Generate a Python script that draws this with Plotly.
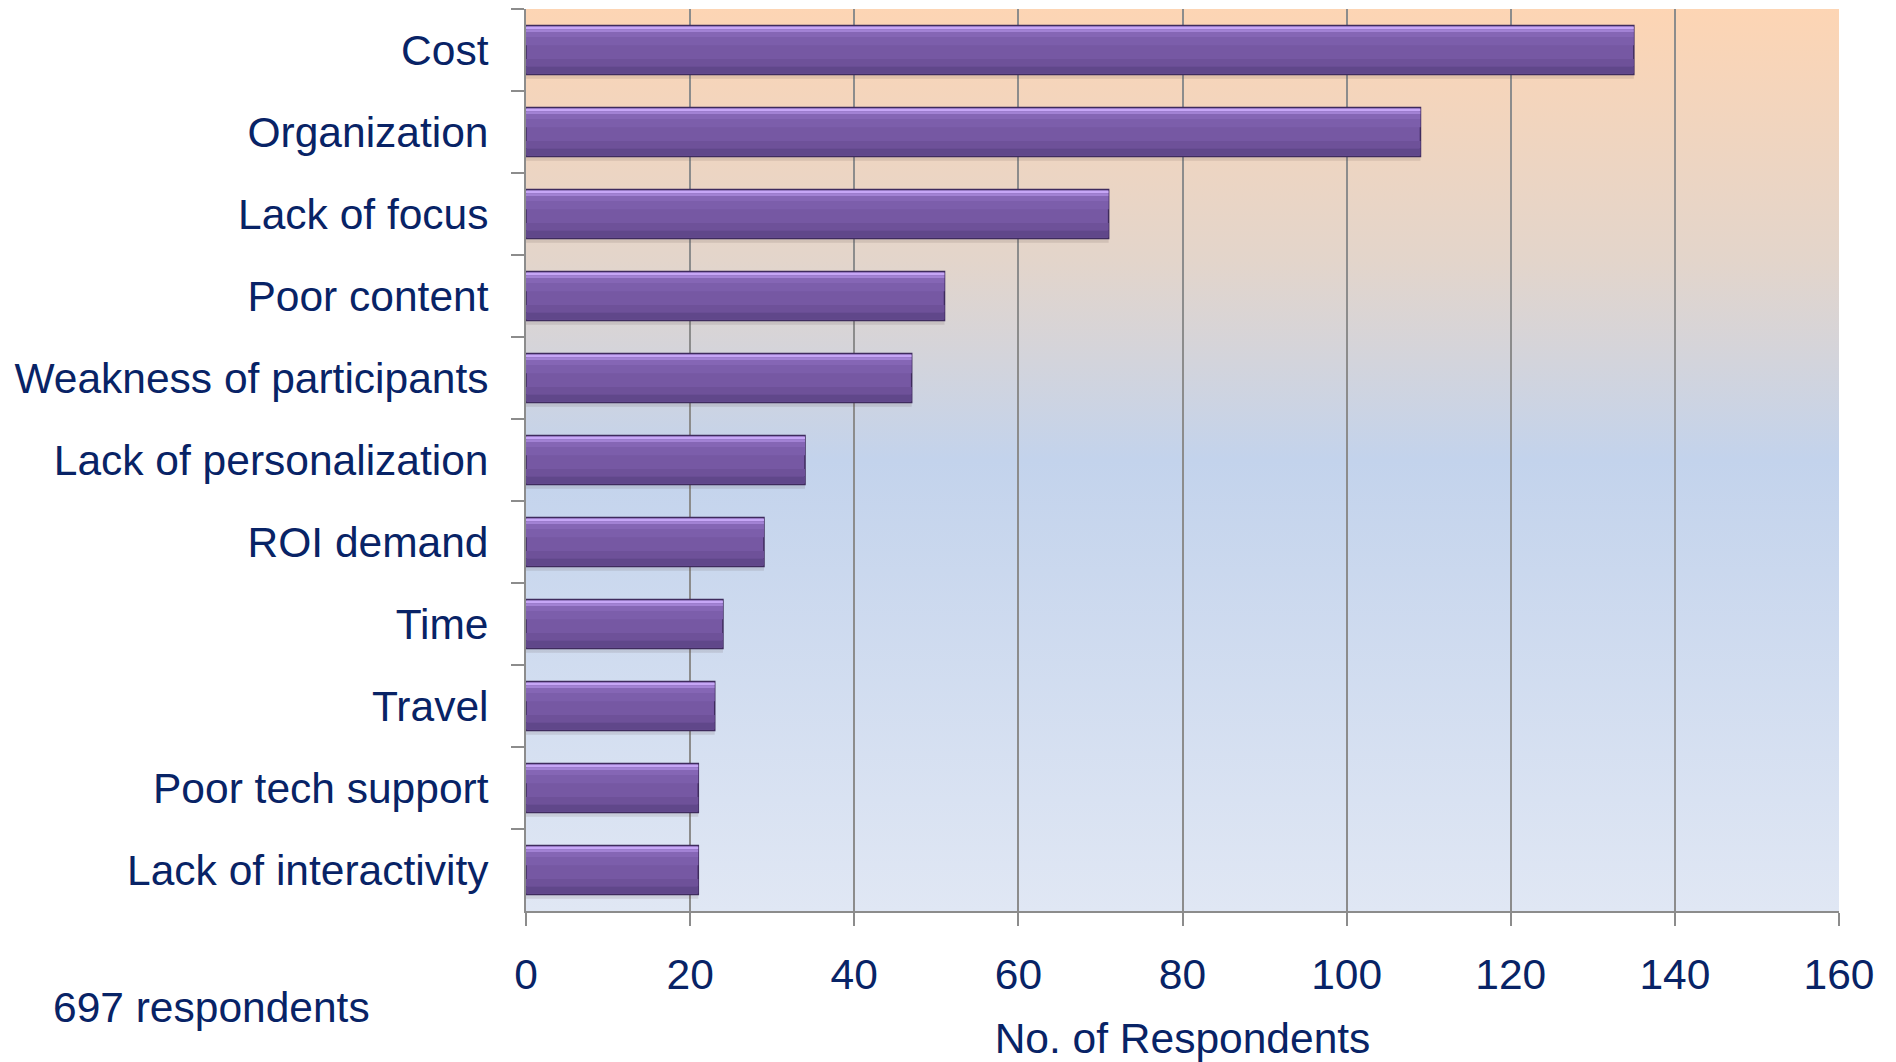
import base64
import plotly.graph_objects as go

# Survey: barriers reported by respondents
categories = [
    "Cost",
    "Organization",
    "Lack of focus",
    "Poor content",
    "Weakness of participants",
    "Lack of personalization",
    "ROI demand",
    "Time",
    "Travel",
    "Poor tech support",
    "Lack of interactivity",
]
respondents = [135, 109, 71, 51, 47, 34, 29, 24, 23, 21, 21]
x_ticks = [0, 20, 40, 60, 80, 100, 120, 140, 160]
note_text = "697 respondents"

NAVY = "#082366"
GRID = "#8C8C8C"
FONT = "Liberation Sans, Arial, sans-serif"
FS = 42.5

BAR_W = 0.6
half = BAR_W / 2

fig = go.Figure()

# soft drop shadow under each bar
fig.add_trace(go.Bar(
    y=categories, x=respondents, orientation="h",
    offset=-half + 0.05, width=BAR_W,
    marker=dict(color="rgba(90,70,70,0.14)", line=dict(width=0)),
    hoverinfo="skip", showlegend=False,
))
# bar body
fig.add_trace(go.Bar(
    y=categories, x=respondents, orientation="h",
    offset=-half, width=BAR_W,
    marker=dict(color="#7658A3", line=dict(color="#3E2B5D", width=1.5)),
    hovertemplate="%{y}: %{x}<extra></extra>", showlegend=False,
))
# bevel shading strips (top light edge -> lower dark band)
strips = [
    (-half + 0.012, 0.035, "#C6A6F6"),
    (-half + 0.047, 0.035, "#A282D4"),
    (-half + 0.082, 0.06, "#8566B5"),
    (-half + 0.142, 0.1, "#7C5EAB"),
    (half - 0.19, 0.09, "#6E5199"),
    (half - 0.1, 0.088, "#60478A"),
]
for off, w, col in strips:
    fig.add_trace(go.Bar(
        y=categories, x=respondents, orientation="h",
        offset=off, width=w,
        marker=dict(color=col, line=dict(width=0)),
        hoverinfo="skip", showlegend=False,
    ))

# vertical background gradient behind the plotting area
svg = (
    "<svg xmlns='http://www.w3.org/2000/svg' width='10' height='100' "
    "viewBox='0 0 10 100' preserveAspectRatio='none'>"
    "<defs><linearGradient id='g' x1='0' y1='0' x2='0' y2='1'>"
    "<stop offset='0' stop-color='#FDD5B4'/>"
    "<stop offset='0.28' stop-color='#E3D5CB'/>"
    "<stop offset='0.5' stop-color='#C3D3EC'/>"
    "<stop offset='1' stop-color='#E0E7F4'/>"
    "</linearGradient></defs>"
    "<rect width='10' height='100' fill='url(#g)'/></svg>"
)
bg_src = "data:image/svg+xml;base64," + base64.b64encode(svg.encode()).decode()

fig.update_layout(
    width=1896, height=1062,
    margin=dict(l=526, r=57, t=9, b=151),
    paper_bgcolor="white",
    plot_bgcolor="rgba(0,0,0,0)",
    barmode="overlay",
    font=dict(family=FONT, color=NAVY, size=FS),
    images=[dict(
        source=bg_src, xref="paper", yref="paper", x=0, y=1,
        sizex=1, sizey=1, xanchor="left", yanchor="top",
        sizing="stretch", layer="below",
    )],
    xaxis=dict(
        range=[0, 160], tickvals=x_ticks, ticktext=[str(v) for v in x_ticks],
        showgrid=True, gridcolor=GRID, gridwidth=2,
        showline=True, linecolor=GRID, linewidth=2,
        ticks="outside", ticklen=13, tickwidth=2, tickcolor=GRID,
        tickfont=dict(size=FS, color=NAVY),
        ticklabelstandoff=12,
        title=dict(text="No. of Respondents", font=dict(size=FS, color=NAVY), standoff=29),
        zeroline=False, automargin=False,
    ),
    yaxis=dict(
        type="category", categoryorder="array", categoryarray=categories,
        autorange="reversed",
        showgrid=False, showline=True, linecolor=GRID, linewidth=2,
        ticks="outside", ticklen=13, tickwidth=2, tickcolor=GRID,
        tickson="boundaries",
        tickfont=dict(size=FS, color=NAVY),
        ticklabelstandoff=27, automargin=False,
    ),
    annotations=[dict(
        text=note_text, xref="paper", yref="paper",
        x=-0.362, y=-0.1075, xanchor="left", yanchor="middle",
        showarrow=False, font=dict(size=FS, color=NAVY),
    )],
)

fig.write_html("out.html")
